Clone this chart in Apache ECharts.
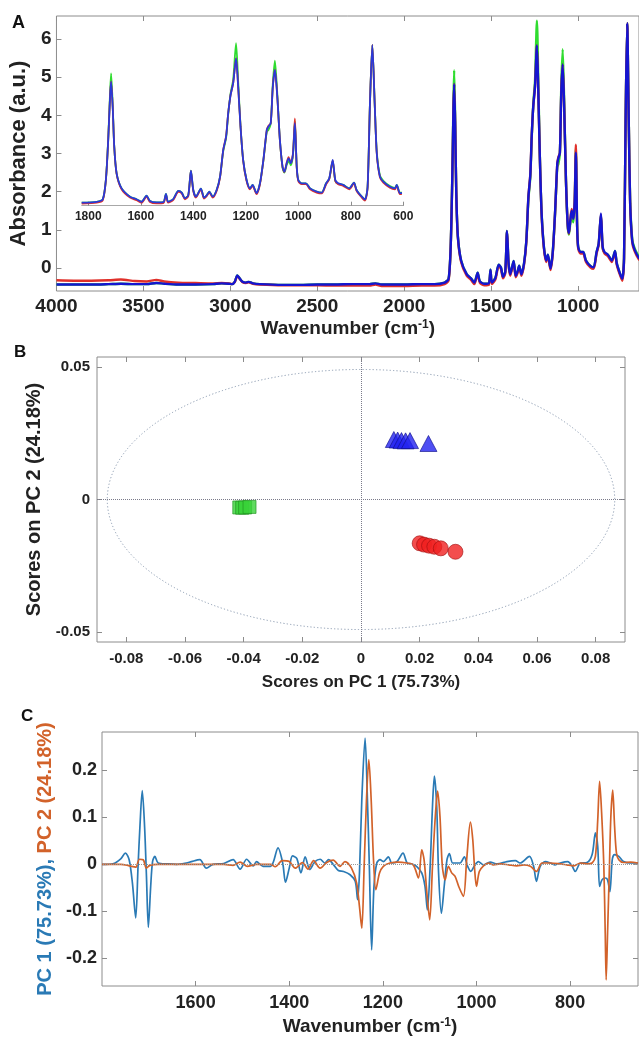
<!DOCTYPE html>
<html><head><meta charset="utf-8">
<script src="https://cdn.jsdelivr.net/npm/echarts@6/dist/echarts.min.js"></script>
<style>html,body{margin:0;padding:0;background:#fff}#c{width:639px;height:1038px}</style>
</head><body><div id="c"></div>
<script>
// ---------- Panel A : FTIR spectra ----------
const wavenumber = [4000,3900,3800,3700,3630,3550,3480,3426,3380,3300,3200,3100,3050,3010,2990,2975,2960,2945,2930,2910,2894,2870,2830,2700,2600,2500,2400,2300,2200,2165,2130,2000,1900,1825,
1768,1745,1733,1724,1717,1713,1707,1701,1692,1673,1641,1616,1597,1578,1565,1539,1514,1504,1496,1476,1457,1444,1432,1419,1409,1400,1390,1371,1359,1349,1339,1326,1311,1298,1286,1275,1267,1258,1248,1237,1229,1220,1210,1197,1184,1174,1159,1146,1133,1120,1114,1105,1097,1089,1080,1070,1060,1053,1044,1037,1028,1020,1013,1006,1000,987,971,955,930,911,894,882,869,859,848,829,806,788,778,758,746,736,727,718,709,701,689,676,651,632,625,613,605];
const absBlue = [-0.43,-0.43,-0.43,-0.42,-0.41,-0.42,-0.42,-0.39,-0.41,-0.43,-0.43,-0.42,-0.40,-0.41,-0.42,-0.36,-0.19,-0.28,-0.36,-0.38,-0.36,-0.40,-0.42,-0.44,-0.44,-0.43,-0.43,-0.42,-0.42,-0.40,-0.43,-0.43,-0.42,-0.42,
-0.38,-0.28,0.56,2.29,4.17,4.82,3.74,2.0,0.85,0.2,
-0.16,-0.27,-0.38,-0.12,-0.35,-0.41,-0.40,-0.04,-0.38,-0.26,
0.09,0.02,-0.23,-0.09,0.97,0.13,-0.16,0.19,-0.20,-0.10,
0.06,-0.16,0.13,0.71,1.86,2.44,3.45,4.24,4.75,5.83,
4.6,2.87,1.43,0.56,0.2,0.35,-0.01,0.42,1.43,2.73,
2.87,3.02,4.6,5.33,4.17,2.29,1.14,0.92,1.29,1.5,
1.29,1.72,3.02,1.14,0.56,0.42,0.42,0.2,0.06,0.02,
0.42,0.64,1.43,0.56,0.42,0.35,0.2,0.45,0.13,-0.16,
-0.28,0.27,3.88,6.41,3.88,1.72,0.71,0.49,0.27,0.2,
0.35,-0.01,0.0];
const absRed = [-0.32,-0.33,-0.33,-0.32,-0.30,-0.34,-0.35,-0.31,-0.35,-0.38,-0.39,-0.40,-0.39,-0.40,-0.42,-0.37,-0.21,-0.29,-0.37,-0.39,-0.37,-0.41,-0.43,-0.45,-0.45,-0.45,-0.46,-0.46,-0.46,-0.43,-0.47,-0.47,-0.46,-0.46,
-0.42,-0.32,0.54,2.29,4.17,4.82,3.74,2.0,0.83,0.16,
-0.20,-0.31,-0.42,-0.16,-0.39,-0.45,-0.44,-0.08,-0.42,-0.30,
0.05,-0.02,-0.27,-0.13,0.95,0.09,-0.20,0.15,-0.24,-0.14,
0.02,-0.20,0.09,0.68,1.86,2.46,3.45,4.24,4.75,5.83,
4.6,2.87,1.40,0.52,0.16,0.31,-0.05,0.38,1.41,2.73,
2.9,3.02,4.6,5.33,4.17,2.27,1.12,0.90,1.32,1.55,
1.30,1.75,3.23,1.12,0.52,0.38,0.38,0.16,0.02,-0.02,
0.38,0.60,1.40,0.52,0.38,0.31,0.16,0.41,0.09,-0.20,
-0.33,0.23,3.88,6.41,3.88,1.70,0.68,0.45,0.23,0.16,
0.31,-0.05,-0.04];
const absGreen = [-0.43,-0.43,-0.43,-0.42,-0.41,-0.42,-0.42,-0.39,-0.41,-0.43,-0.43,-0.42,-0.40,-0.41,-0.42,-0.36,-0.19,-0.28,-0.36,-0.38,-0.36,-0.40,-0.42,-0.44,-0.44,-0.43,-0.43,-0.42,-0.42,-0.40,-0.43,-0.43,-0.42,-0.42,
-0.38,-0.28,0.56,2.35,4.35,5.18,3.85,2.0,0.85,0.2,
-0.16,-0.27,-0.38,-0.12,-0.35,-0.41,-0.40,-0.04,-0.38,-0.26,
0.09,0.02,-0.23,-0.09,0.97,0.13,-0.16,0.19,-0.20,-0.10,
0.06,-0.16,0.13,0.71,1.8,2.38,3.4,4.3,4.9,6.48,
4.85,2.9,1.43,0.56,0.2,0.35,-0.01,0.42,1.4,2.65,
2.72,3.0,4.75,5.73,4.3,2.29,1.10,0.88,1.22,1.38,
1.2,1.68,3.12,1.14,0.56,0.42,0.42,0.2,0.06,0.02,
0.42,0.62,1.38,0.52,0.40,0.35,0.2,0.45,0.13,-0.16,
-0.28,0.27,3.88,6.41,3.9,1.78,0.76,0.53,0.30,0.22,
0.35,0.02,0.02];
const spectrumTicksX = [4000,3500,3000,2500,2000,1500,1000];
const spectrumTicksY = [0,1,2,3,4,5,6];
const insetTicksX = [1800,1600,1400,1200,1000,800,600];

// ---------- Panel B : PCA scores ----------
const scoresGreen = [[-0.0415,-0.0030],[-0.0405,-0.0031],[-0.0395,-0.0030],[-0.0380,-0.0028]];
const scoresBlue = [[0.0112,0.0226],[0.0125,0.0224],[0.0138,0.0222],[0.0152,0.0221],[0.0167,0.0222],[0.0230,0.0211]];
const scoresRed = [[0.0200,-0.0165],[0.0215,-0.0170],[0.0232,-0.0174],[0.0250,-0.0178],[0.0272,-0.0184],[0.0322,-0.0197]];
const confidenceEllipse = [0, 0, 0.0865, 0.049]; // centre x, centre y, semi-axis PC1, semi-axis PC2
const scoreTicksX = [-0.08,-0.06,-0.04,-0.02,0,0.02,0.04,0.06,0.08];
const scoreTicksY = [-0.05,0,0.05];

// ---------- Panel C : PCA loadings ----------
const pc1Wn = [1800,1775,1760,1750,1742,1735,1728,1723,1719,1714,1709,1705,1701,1696,1692,1687,1680,1660,1640,1620,1609,1591,1577,1563,1540,1520,1505,1491,1477,1470,1456,1440,1434,1424,1414,1408,1400,1393,1384,1375,1366,1356,1345,1334,1324,1316,1306,1295,1284,1270,1259,1254,1250,1245,1238,1233,1229,1224,1219,1213,1206,1199,1188,1181,1170,1157,1148,1138,1128,1117,1110,1105,1099,1094,1090,1085,1081,1075,1069,1063,1058,1051,1043,1035,1026,1019,1012,1005,996,985,971,956,935,917,907,887,878,872,864,853,842,832,821,805,796,789,778,764,753,746,741,737,732,725,720,715,710,705,696,686,671,655];
const pc1Val = [0.000,0.002,0.012,0.024,0.010,-0.040,-0.114,-0.004,0.080,0.157,0.080,-0.026,-0.134,-0.047,0.006,0.017,0.003,0.001,0.000,0.003,0.006,0.010,-0.008,0.000,0.002,0.010,-0.010,0.011,-0.003,0.006,-0.004,-0.004,0.005,0.035,0.003,-0.038,-0.008,0.018,0.013,-0.018,0.016,-0.011,0.006,0.011,0.003,0.010,0.000,-0.013,-0.015,-0.022,-0.036,-0.075,-0.018,0.138,0.269,0.138,0.000,-0.182,-0.047,0.003,0.010,0.006,0.016,0.003,0.006,0.024,0.003,0.001,-0.004,-0.018,-0.047,-0.097,-0.004,0.124,0.188,0.124,-0.018,-0.104,-0.047,0.010,0.023,0.003,0.003,0.003,0.016,-0.004,-0.015,-0.004,0.006,-0.001,0.005,0.001,0.006,0.008,0.003,0.017,-0.004,-0.036,-0.004,0.006,0.003,-0.001,0.003,0.006,-0.003,-0.015,0.003,0.004,0.021,0.067,0.038,-0.047,-0.033,-0.029,-0.033,-0.058,0.010,0.021,0.017,0.006,0.003,0.003];
const pc2Wn = [1800,1760,1745,1738,1728,1720,1712,1705,1698,1680,1600,1540,1520,1505,1490,1470,1440,1430,1415,1400,1387,1372,1360,1348,1334,1320,1306,1292,1281,1267,1256,1250,1245,1240,1235,1230,1225,1220,1215,1207,1199,1185,1167,1149,1135,1124,1117,1112,1106,1100,1094,1088,1083,1078,1073,1067,1060,1053,1046,1038,1028,1021,1013,1008,1004,1000,994,985,974,964,949,931,914,899,885,872,860,842,821,807,792,778,764,753,746,741,737,732,728,725,723,720,716,713,709,705,701,696,686,671,655];
const pc2Val = [0.000,0.000,-0.002,-0.004,-0.006,0.011,0.010,-0.008,-0.002,0.000,0.000,0.000,-0.002,0.005,-0.004,0.000,0.000,-0.005,0.008,0.006,-0.008,0.004,-0.010,0.008,-0.008,0.004,0.009,-0.004,0.006,-0.008,-0.040,-0.090,-0.136,-0.004,0.138,0.223,0.138,0.010,-0.054,-0.018,-0.004,0.003,0.005,0.003,-0.001,-0.029,0.031,0.010,-0.061,-0.118,-0.004,0.102,0.156,0.102,-0.004,-0.033,-0.004,-0.018,-0.025,-0.047,-0.068,0.010,0.090,0.053,-0.010,-0.047,-0.015,-0.003,0.003,-0.001,0.001,-0.001,-0.003,-0.001,-0.004,-0.015,0.003,0.003,0.001,-0.001,-0.003,0.003,0.001,0.003,0.017,0.095,0.177,0.095,-0.004,-0.146,-0.246,-0.146,-0.004,0.102,0.158,0.081,0.024,0.010,0.004,0.005,0.003];
const loadTicksX = [1600,1400,1200,1000,800];
const loadTicksY = [-0.2,-0.1,0,0.1,0.2];

// ---------- styling ----------
const FONT = '"Liberation Sans", Arial, Helvetica, sans-serif';
const AX = '#8c8c8c';
const TXT = '#222222';
const C_RED = '#e0302a', C_GREEN = '#2fdc2f', C_BLUE = '#1515d0';
const C_PC1 = '#2a7ab5', C_PC2 = '#d2622a';

function pairs(xs, ys) { return xs.map((x, i) => [x, ys[i]]); }
function tickStyle(vals, len) {
  return { show: true, inside: true, length: len || 5, customValues: vals, lineStyle: { color: AX, width: 1 } };
}
function labelStyle(vals, size, margin, fmt) {
  return { show: true, customValues: vals, fontSize: size, fontWeight: 'bold', color: TXT, fontFamily: FONT, margin: margin, formatter: fmt || (v => String(v)) };
}
const hidden = { show: false };
const noLine = { show: false, onZero: false };
const supRich = { s: { fontSize: 12, fontWeight: 'bold', color: TXT, fontFamily: FONT, verticalAlign: 'top', lineHeight: 14 } };

const chart = echarts.init(document.getElementById('c'), null, { renderer: 'canvas' });

const specLine = (name, vals, color, xi, yi, w, filter) => ({
  type: 'line', name: name, xAxisIndex: xi, yAxisIndex: yi, showSymbol: false, symbol: 'none',
  smooth: 0.25, clip: true, silent: true,
  data: pairs(wavenumber, vals).filter(filter || (() => true)),
  lineStyle: { color: color, width: w }, z: 3
});

const option = {
  animation: false,
  backgroundColor: '#ffffff',
  textStyle: { fontFamily: FONT },
  graphic: [
    { type: 'text', left: 12, top: 14, style: { text: 'A', font: 'bold 18px ' + FONT, fill: '#111' } },
    { type: 'text', left: 14, top: 344, style: { text: 'B', font: 'bold 17px ' + FONT, fill: '#111' } },
    { type: 'text', left: 21, top: 708, style: { text: 'C', font: 'bold 17px ' + FONT, fill: '#111' } }
  ],
  grid: [
    { left: 52, top: 16, width: 590, height: 275, show: true, borderColor: AX, borderWidth: 1, backgroundColor: 'transparent' },
    { left: 81.7, top: 19.7, width: 321.6, height: 186, show: false },
    { left: 97, top: 357, width: 528, height: 285, show: true, borderColor: AX, borderWidth: 1, backgroundColor: 'transparent' },
    { left: 102, top: 732, width: 536, height: 254, show: true, borderColor: AX, borderWidth: 1, backgroundColor: 'transparent' }
  ],
  xAxis: [
    { gridIndex: 0, type: 'value', inverse: true, min: 650, max: 4000,
      axisLine: noLine, splitLine: hidden, axisTick: tickStyle(spectrumTicksX, 5),
      axisLabel: labelStyle(spectrumTicksX, 19, 6),
      name: 'Wavenumber (cm{s|-1})', nameLocation: 'middle', nameGap: 28,
      nameTextStyle: { fontSize: 19, fontWeight: 'bold', color: TXT, fontFamily: FONT, rich: supRich } },
    { gridIndex: 0, type: 'value', position: 'top', inverse: true, min: 650, max: 4000,
      axisLine: noLine, splitLine: hidden, axisTick: tickStyle(spectrumTicksX, 5), axisLabel: hidden },
    { gridIndex: 1, type: 'value', inverse: true, min: 600, max: 1825,
      axisLine: { show: true, onZero: false, lineStyle: { color: '#a8a8a8', width: 1 } }, splitLine: hidden,
      axisTick: tickStyle(insetTicksX, 4), axisLabel: labelStyle(insetTicksX, 12, 5) },
    { gridIndex: 2, type: 'value', min: -0.09, max: 0.09,
      axisLine: noLine, splitLine: hidden, axisTick: tickStyle(scoreTicksX, 5),
      axisLabel: labelStyle(scoreTicksX, 15, 9),
      name: 'Scores on PC 1 (75.73%)', nameLocation: 'middle', nameGap: 32,
      nameTextStyle: { fontSize: 17, fontWeight: 'bold', color: TXT, fontFamily: FONT } },
    { gridIndex: 2, type: 'value', position: 'top', min: -0.09, max: 0.09,
      axisLine: noLine, splitLine: hidden, axisTick: tickStyle(scoreTicksX, 5), axisLabel: hidden },
    { gridIndex: 3, type: 'value', inverse: true, min: 655, max: 1800,
      axisLine: noLine, splitLine: hidden, axisTick: tickStyle(loadTicksX, 5),
      axisLabel: labelStyle(loadTicksX, 18, 8),
      name: 'Wavenumber (cm{s|-1})', nameLocation: 'middle', nameGap: 31,
      nameTextStyle: { fontSize: 19, fontWeight: 'bold', color: TXT, fontFamily: FONT, rich: supRich } },
    { gridIndex: 3, type: 'value', position: 'top', inverse: true, min: 655, max: 1800,
      axisLine: noLine, splitLine: hidden, axisTick: tickStyle(loadTicksX, 5), axisLabel: hidden }
  ],
  yAxis: [
    { gridIndex: 0, type: 'value', min: -0.6, max: 6.6,
      axisLine: noLine, splitLine: hidden, axisTick: tickStyle(spectrumTicksY, 5),
      axisLabel: labelStyle(spectrumTicksY, 19, 5),
      name: 'Absorbance (a.u.)', nameLocation: 'middle', nameGap: 9,
      nameTextStyle: { fontSize: 22, fontWeight: 'bold', color: TXT, fontFamily: FONT } },
    { gridIndex: 1, type: 'value', min: -0.55, max: 7.5, show: false, axisLine: noLine },
    { gridIndex: 2, type: 'value', min: -0.0537, max: 0.0537,
      axisLine: noLine, splitLine: hidden, axisTick: tickStyle(scoreTicksY, 5),
      axisLabel: labelStyle(scoreTicksY, 15, 7),
      name: 'Scores on PC 2 (24.18%)', nameLocation: 'middle', nameGap: 40,
      nameTextStyle: { fontSize: 20, fontWeight: 'bold', color: TXT, fontFamily: FONT } },
    { gridIndex: 2, type: 'value', position: 'right', min: -0.0537, max: 0.0537,
      axisLine: noLine, splitLine: hidden, axisTick: tickStyle(scoreTicksY, 5), axisLabel: hidden },
    { gridIndex: 3, type: 'value', min: -0.259, max: 0.282,
      axisLine: noLine, splitLine: hidden, axisTick: tickStyle(loadTicksY, 5),
      axisLabel: labelStyle(loadTicksY, 18, 5),
      name: '{a|PC 1 (75.73%)}{k|, }{b|PC 2 (24.18%)}', nameLocation: 'middle', nameGap: 37,
      nameTextStyle: { fontSize: 20, fontWeight: 'bold', fontFamily: FONT,
        rich: { a: { fontSize: 20, fontWeight: 'bold', color: C_PC1, fontFamily: FONT },
                k: { fontSize: 20, fontWeight: 'bold', color: C_PC1, fontFamily: FONT },
                b: { fontSize: 20, fontWeight: 'bold', color: C_PC2, fontFamily: FONT } } } },
    { gridIndex: 3, type: 'value', position: 'right', min: -0.259, max: 0.282,
      axisLine: noLine, splitLine: hidden, axisTick: tickStyle(loadTicksY, 5), axisLabel: hidden }
  ],
  series: [
    specLine('green', absGreen, C_GREEN, 0, 0, 2.4),
    specLine('red', absRed, C_RED, 0, 0, 2.4),
    specLine('blue', absBlue, C_BLUE, 0, 0, 2.4),
    specLine('green-inset', absGreen, C_GREEN, 2, 1, 1.8, d => d[0] <= 1825),
    specLine('red-inset', absRed, C_RED, 2, 1, 1.8, d => d[0] <= 1825),
    specLine('blue-inset', absBlue, '#2a3ad8', 2, 1, 1.8, d => d[0] <= 1825),
    {
      type: 'custom', xAxisIndex: 3, yAxisIndex: 2, silent: true, z: 1,
      data: [confidenceEllipse],
      renderItem: function (params, api) {
        const c = api.coord([api.value(0), api.value(1)]);
        const s = api.size([api.value(2), api.value(3)]);
        const rx = s[0], ry = s[1];
        const d = 'M ' + (c[0] - rx) + ' ' + c[1] +
          ' A ' + rx + ' ' + ry + ' 0 1 0 ' + (c[0] + rx) + ' ' + c[1] +
          ' A ' + rx + ' ' + ry + ' 0 1 0 ' + (c[0] - rx) + ' ' + c[1] + ' Z';
        return { type: 'path', shape: { pathData: d, x: c[0] - rx, y: c[1] - ry, width: 2 * rx, height: 2 * ry },
          style: { fill: 'none', stroke: '#8a9ab0', lineWidth: 1, lineDash: [1.2, 2.2] } };
      }
    },
    { type: 'scatter', xAxisIndex: 3, yAxisIndex: 2, data: scoresGreen, symbol: 'rect', symbolSize: 13, z: 4,
      itemStyle: { color: '#38d238', borderColor: '#1f8f1f', borderWidth: 0.8 },
      markLine: { silent: true, symbol: 'none', label: { show: false },
        lineStyle: { type: 'dotted', color: '#7a7a8a', width: 1 },
        data: [{ xAxis: 0 }, { yAxis: 0 }] } },
    { type: 'scatter', xAxisIndex: 3, yAxisIndex: 2, data: scoresBlue, symbol: 'triangle', symbolSize: [17, 16], z: 4,
      itemStyle: { color: '#2323f0', borderColor: '#10108a', borderWidth: 0.8 } },
    { type: 'scatter', xAxisIndex: 3, yAxisIndex: 2, data: scoresRed, symbol: 'circle', symbolSize: 15, z: 4,
      itemStyle: { color: '#f02020', borderColor: '#a01010', borderWidth: 0.8 } },
    { type: 'line', xAxisIndex: 5, yAxisIndex: 4, data: pairs(pc1Wn, pc1Val), showSymbol: false, symbol: 'none',
      smooth: 0.3, clip: true, silent: true, lineStyle: { color: C_PC1, width: 1.7 }, z: 3,
      markLine: { silent: true, symbol: 'none', label: { show: false },
        lineStyle: { type: 'dotted', color: '#9a9a9a', width: 1 }, data: [{ yAxis: 0 }] } },
    { type: 'line', xAxisIndex: 5, yAxisIndex: 4, data: pairs(pc2Wn, pc2Val), showSymbol: false, symbol: 'none',
      smooth: 0.3, clip: true, silent: true, lineStyle: { color: C_PC2, width: 1.7 }, z: 4 }
  ]
};
chart.setOption(option);
</script></body></html>
